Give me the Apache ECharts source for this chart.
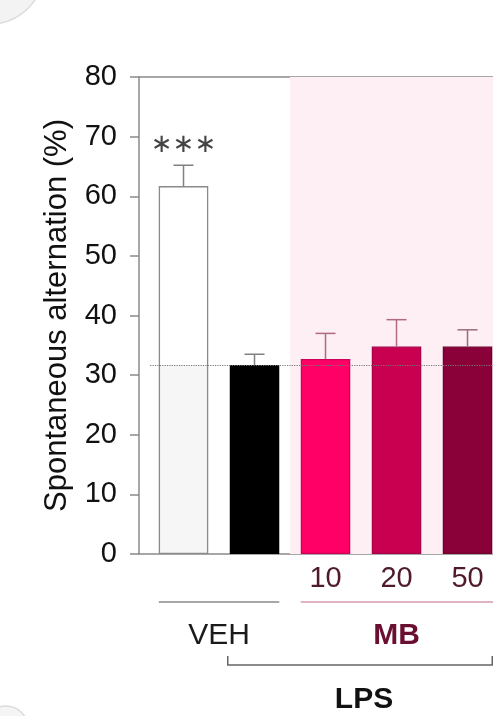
<!DOCTYPE html>
<html>
<head>
<meta charset="utf-8">
<script src="https://cdn.jsdelivr.net/npm/echarts@6/dist/echarts.min.js"></script>
<style>
html, body { margin: 0; padding: 0; background: #fff; }
#chart_container { width: 493px; height: 716px; }
</style>
</head>
<body>
<div id="chart_container"></div>
<script>
// spontaneous alternation bar chart (VEH / LPS / LPS + MB doses)

var groups  = ['VEH', 'LPS', 'MB 10', 'MB 20', 'MB 50'];
var doses   = ['', '', '10', '20', '50'];
var means   = [61.7, 31.7, 32.7, 34.8, 34.8];
var errTop  = [65.2, 33.5, 37.0, 39.3, 37.6];   // mean + SEM
var signif  = ['***', '', '', '', ''];
var yTicks  = [0, 10, 20, 30, 40, 50, 60, 70, 80];

var barColors    = ['#ffffff', '#000000', '#ff0066', '#c8004f', '#8a0039'];
var borderColors = ['#8a8a8a', '#000000', '#d0005a', '#a8004a', '#70002e'];
var errColors    = ['#808080', '#808080', '#b06a86', '#b06a86', '#9a6a7c'];

// x is a value axis so the first bar can sit away from the y axis
var xMin = -0.627;
var xMax = 4.359;
var mbStart = 1.5;   // where the pink MB shading begins

var chartDom = document.getElementById('chart_container');
var myChart = echarts.init(chartDom);

var axisGray = '#8a8a8a';
var font = 'Liberation Sans, Arial, sans-serif';

var barData = means.map(function (v, i) {
    var color = barColors[i];
    if (i === 0) {
        // white on top, faint grey below the dotted line
        var cut = (v - means[1]) / v;
        color = new echarts.graphic.LinearGradient(0, 0, 0, 1, [
            { offset: 0, color: '#ffffff' },
            { offset: cut, color: '#ffffff' },
            { offset: cut, color: '#f6f6f6' },
            { offset: 1, color: '#f6f6f6' }
        ]);
    }
    return {
        value: [i, v],
        itemStyle: { color: color, borderColor: borderColors[i], borderWidth: 1.3 }
    };
});

var errData = means.map(function (v, i) { return [i, v, errTop[i]]; });

var opt1 = {
    animation: false,
    textStyle: { fontFamily: font },
    grid: { left: 139, right: 0, top: 77, bottom: 162 },
    xAxis: [
        {
            type: 'value', min: xMin, max: xMax,
            axisLine: { onZero: false, lineStyle: { color: axisGray, width: 1.5 } },
            axisTick: { show: false },
            axisLabel: { show: false },
            splitLine: { show: false }
        },
        {
            // top frame line
            type: 'value', min: xMin, max: xMax, position: 'top',
            axisLine: { show: true, onZero: false, lineStyle: { color: axisGray, width: 1.5 } },
            axisTick: { show: false },
            axisLabel: { show: false },
            splitLine: { show: false }
        }
    ],
    yAxis: {
        type: 'value', min: yTicks[0], max: yTicks[yTicks.length - 1], interval: 10,
        name: 'Spontaneous alternation (%)',
        nameLocation: 'middle',
        nameGap: 66,
        nameTextStyle: { fontSize: 31, color: '#111', fontFamily: font },
        axisLine: { show: true, onZero: false, lineStyle: { color: axisGray, width: 1.5 } },
        axisTick: { show: true, inside: false, length: 9, lineStyle: { color: axisGray, width: 1.5 } },
        axisLabel: { fontSize: 29, color: '#111', margin: 22, fontFamily: font },
        splitLine: { show: false }
    },
    series: [
        {
            // pink background for the MB-treated groups
            type: 'line', data: [], z: 1, silent: true,
            markArea: {
                silent: true,
                itemStyle: { color: '#fdeff4' },
                data: [[{ xAxis: mbStart }, { xAxis: xMax }]]
            }
        },
        {
            name: 'mean',
            type: 'bar',
            z: 2,
            barWidth: 49.5,
            data: barData,
            label: {
                show: true,
                position: 'bottom',
                distance: 10,
                fontSize: 29,
                color: '#4f1b2c',
                fontFamily: font,
                formatter: function (p) { return doses[p.dataIndex]; }
            }
        },
        {
            name: 'sem',
            type: 'custom',
            z: 3,
            data: errData,
            renderItem: function (params, api) {
                var idx = params.dataIndex;
                var base = api.coord([api.value(0), api.value(1)]);
                var top = api.coord([api.value(0), api.value(2)]);
                var hw = 10;
                var st = { stroke: errColors[idx], lineWidth: 1.5 };
                var kids = [
                    { type: 'line', shape: { x1: base[0], y1: base[1], x2: top[0], y2: top[1] }, style: st },
                    { type: 'line', shape: { x1: top[0] - hw, y1: top[1], x2: top[0] + hw, y2: top[1] }, style: st }
                ];
                if (signif[idx]) {
                    kids.push({
                        type: 'text',
                        style: {
                            text: signif[idx].replace(/\*/g, '\u2217'),
                            x: top[0], y: top[1] - 20,
                            align: 'center', verticalAlign: 'middle',
                            fontSize: 26, fill: '#444',
                            fontFamily: 'DejaVu Sans'
                        }
                    });
                }
                return { type: 'group', children: kids };
            }
        },
        {
            // dotted reference at the LPS mean
            type: 'line', data: [], z: 5, silent: true,
            markLine: {
                silent: true,
                symbol: ['none', 'none'],
                label: { show: false },
                lineStyle: { type: 'dotted', color: '#777', width: 1.2 },
                data: [[{ coord: [-0.47, means[1]] }, { coord: [xMax, means[1]] }]]
            }
        }
    ]
};

myChart.setOption(opt1);

// group annotations below the axis, placed from the axis scale
function px(x) { return myChart.convertToPixel({ xAxisIndex: 0, yAxisIndex: 0 }, [x, 0]); }
var halfBar = 49.5 / 2;
var yAxisPx = px(0)[1];
var lineY = yAxisPx + 48;
var textY = yAxisPx + 82;
var bracketY = yAxisPx + 111;
var lpsY = yAxisPx + 146;

var vehL = px(0)[0] - halfBar, vehR = px(1)[0] + halfBar;
var mbL = px(2)[0] - halfBar, mbR = px(4)[0] + halfBar;
var lpsL = px(1)[0] - halfBar - 2, lpsR = mbR;

myChart.setOption({
    graphic: [
        // soft grey corners from the source frame
        { type: 'circle', shape: { cx: -10, cy: -30, r: 54 }, style: { fill: '#f3f3f3', stroke: '#dcdcdc', lineWidth: 1.5 }, silent: true },
        { type: 'circle', shape: { cx: 6, cy: 728, r: 22 }, style: { fill: '#f5f5f5', stroke: '#dcdcdc', lineWidth: 1.5 }, silent: true },

        { type: 'line', shape: { x1: vehL, y1: lineY, x2: vehR, y2: lineY }, style: { stroke: '#8a8a8a', lineWidth: 1.5 } },
        { type: 'line', shape: { x1: mbL, y1: lineY, x2: mbR + 10, y2: lineY }, style: { stroke: '#d49ab0', lineWidth: 1.5 } },
        { type: 'text', x: (vehL + vehR) / 2, y: textY,
          style: { text: 'VEH', align: 'center', verticalAlign: 'middle', fontSize: 30, fill: '#1a1a1a', fontFamily: font } },
        { type: 'text', x: px(3)[0], y: textY,
          style: { text: 'MB', align: 'center', verticalAlign: 'middle', fontSize: 30, fontWeight: 'bold', fill: '#6a0f31', fontFamily: font } },
        { type: 'polyline', shape: { points: [[lpsL, bracketY - 9], [lpsL, bracketY], [lpsR, bracketY], [lpsR, bracketY - 9]] },
          style: { stroke: '#666', lineWidth: 1.5, fill: null } },
        { type: 'text', x: (lpsL + lpsR) / 2 + 4, y: lpsY,
          style: { text: 'LPS', align: 'center', verticalAlign: 'middle', fontSize: 30, fontWeight: 'bold', fill: '#111', fontFamily: font } }
    ]
});

console.log('chart ready');
</script>
</body>
</html>
